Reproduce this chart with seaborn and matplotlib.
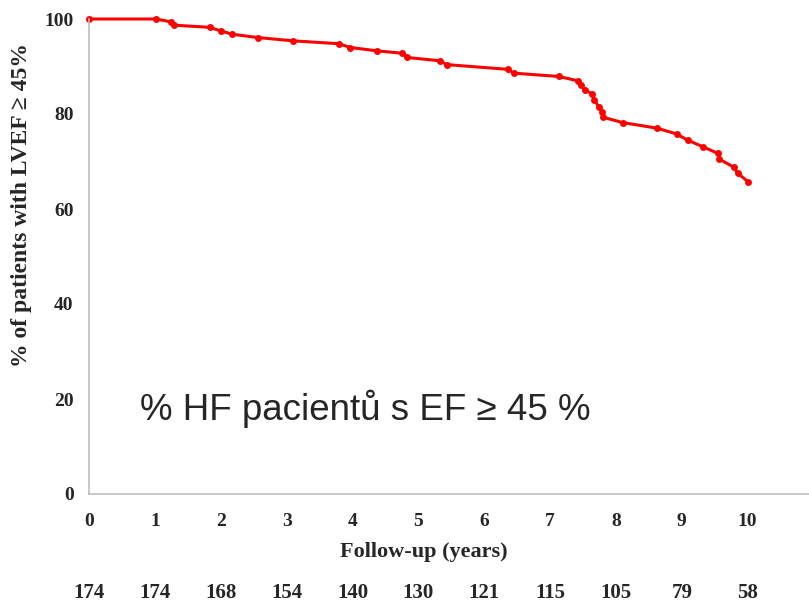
import matplotlib
matplotlib.use("Agg")
import matplotlib.pyplot as plt
import matplotlib.transforms as mtransforms
import seaborn as sns
import pandas as pd

# Data
years = [0.0, 1.02, 1.24, 1.29, 1.83, 2.00, 2.17, 2.56, 3.10, 3.79, 3.97, 4.37,
         4.75, 4.83, 5.33, 5.43, 6.36, 6.45, 7.13, 7.42, 7.47, 7.53, 7.64, 7.67,
         7.74, 7.79, 7.81, 8.10, 8.63, 8.92, 9.09, 9.32, 9.55, 9.57, 9.79, 9.85, 10.01]
percent = [100.0, 100.0, 99.4, 98.7, 98.25, 97.5, 96.8, 96.1, 95.4, 94.8, 94.0, 93.3,
           92.8, 91.9, 91.2, 90.4, 89.4, 88.6, 87.9, 87.0, 86.1, 85.1, 84.2, 83.0,
           81.5, 80.5, 79.3, 78.2, 77.0, 75.8, 74.5, 73.1, 71.7, 70.5, 68.8, 67.5, 65.7]
x_ticks = [0, 1, 2, 3, 4, 5, 6, 7, 8, 9, 10]
y_ticks = [0, 20, 40, 60, 80, 100]
at_risk = ["174", "174", "168", "154", "140", "130", "121", "115", "105", "79", "58"]

df = pd.DataFrame({"years": years, "percent": percent})

sns.set_style("white")
plt.rcParams["font.family"] = ["Liberation Serif", "DejaVu Serif"]

fig = plt.figure(figsize=(8.09, 6.05), dpi=100)
ax = fig.add_axes([89 / 809, 111 / 605, 1 - 89 / 809, 475 / 605])

sns.lineplot(data=df, x="years", y="percent", ax=ax, color="#FF0000", linewidth=2.2,
             marker="o", markersize=5, markeredgewidth=0, sort=False)
for line in ax.lines:
    line.set_clip_on(False)

ax.set_xlim(0, (809 - 89.3) / 65.84)
ax.set_ylim(0, 100)
ax.set_xticks(x_ticks)
ax.set_yticks(y_ticks)
ax.set_xticklabels([str(t) for t in x_ticks], fontweight="bold", fontsize=14)
ax.set_yticklabels([str(t) for t in y_ticks], fontweight="bold", fontsize=14)
ax.tick_params(axis="both", direction="out", length=5, width=1, color="#BFBFBF")
ax.tick_params(axis="x", pad=9)
ax.tick_params(axis="y", pad=6)
ax.set_xlabel("")
ax.set_ylabel("")

for s in ["top", "right"]:
    ax.spines[s].set_visible(False)
for s in ["left", "bottom"]:
    ax.spines[s].set_color("#BFBFBF")
    ax.spines[s].set_linewidth(1.2)

fig.text(424 / 809, 1 - 552 / 605, "Follow-up (years)", ha="center", va="center",
         fontsize=16, fontweight="bold")
fig.text(22 / 809, 1 - 205 / 605, "% of patients with LVEF \u2265 45%", ha="center",
         va="center", rotation=90, fontsize=17, fontweight="bold")

trans = mtransforms.blended_transform_factory(ax.transData, fig.transFigure)
for xt, lab in zip(x_ticks, at_risk):
    ax.text(xt, 1 - 593 / 605, lab, transform=trans, ha="center", va="center",
            fontsize=15, fontweight="bold", clip_on=False)

ax.text(0.77, 18.0, "% HF pacient\u016f s EF \u2265 45 %", ha="left", va="center",
        fontsize=26.5, family=["Liberation Sans", "DejaVu Sans"])

fig.savefig("out.png", dpi=100)
